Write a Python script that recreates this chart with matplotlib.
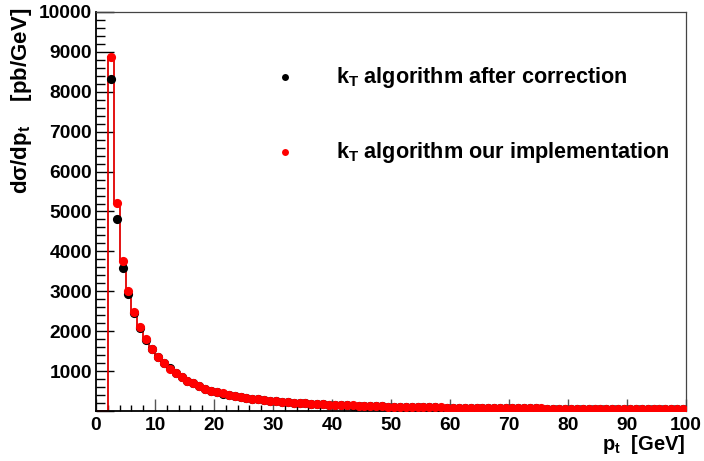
import numpy as np
import matplotlib
matplotlib.use("Agg")
import matplotlib.pyplot as plt

plt.rcParams["font.family"] = ["Liberation Sans", "DejaVu Sans"]
plt.rcParams["font.weight"] = "bold"
plt.rcParams["mathtext.fontset"] = "custom"
plt.rcParams["mathtext.rm"] = "Liberation Sans:bold"
plt.rcParams["mathtext.it"] = "Liberation Sans:bold"
plt.rcParams["mathtext.bf"] = "Liberation Sans:bold"

# 1 GeV bins from 0 to 100 GeV; first two bins are empty
bin_edges = np.arange(0, 101, 1)

# k_T algorithm our implementation (red), dsigma/dpt in pb/GeV, bins 0-1 ... 99-100
ours = [0, 0,
        8870, 5210, 3760, 3010, 2480, 2100, 1800, 1550, 1350, 1200,
        1060, 950, 840, 760, 690, 620, 560, 510, 470, 440,
        410, 380, 355, 330, 310, 292, 275, 260, 247, 235,
        224, 213, 203, 194, 185, 177, 169, 162, 155, 149,
        143, 138, 133, 128, 124, 120, 116, 112, 109, 106,
        103, 100, 97, 95, 92, 90, 88, 86, 84, 82,
        80, 78, 77, 75, 74, 72, 71, 70, 68, 67,
        66, 65, 64, 63, 62, 61, 60, 59, 58, 57,
        57, 56, 55, 54, 54, 53, 52, 52, 51, 50,
        50, 49, 48, 47, 47, 46, 45, 45]

# k_T algorithm after correction (black), same binning
corrected = [0, 0,
             8320, 4810, 3580, 2930, 2450, 2080, 1790, 1545, 1345, 1195,
             1070, 945, 850, 755, 690, 615, 560, 505, 470, 438,
             408, 379, 352, 330, 309, 290, 274, 259, 246, 234,
             223, 212, 202, 193, 184, 176, 168, 161, 154, 148,
             143, 137, 132, 127, 123, 119, 115, 112, 108, 105,
             102, 99, 97, 94, 92, 90, 87, 85, 83, 81,
             80, 78, 76, 75, 73, 72, 70, 69, 68, 67,
             66, 65, 64, 62, 61, 60, 60, 59, 58, 57,
             56, 56, 55, 54, 53, 53, 52, 51, 51, 50,
             49, 49, 48, 47, 47, 46, 45, 45]

legend_labels = [r"$k_T$ algorithm after correction", r"$k_T$ algorithm our implementation"]

centers = 0.5 * (bin_edges[:-1] + bin_edges[1:])
ours = np.array(ours, float)
corrected = np.array(corrected, float)
filled = ours > 0

fig = plt.figure(figsize=(7.04, 4.61), dpi=100)
ax = fig.add_axes([96 / 704, 1 - 411 / 461, 590 / 704, 399 / 461])

ax.stairs(ours, bin_edges, color="#e00000", lw=1.3, zorder=2, clip_on=False)
ax.plot(centers[filled], corrected[filled], "o", color="black", ms=6.6, mew=0, zorder=3)
ax.plot(centers[filled], ours[filled], "o", color="#ff0000", ms=6.6, mew=0, zorder=4)

ax.set_xlim(0, 100)
ax.set_ylim(0, 10000)
ax.set_xticks(np.arange(0, 101, 10))
ax.set_xticks(np.arange(0, 101, 2), minor=True)
ax.set_yticks(np.arange(0, 10001, 1000))
ax.set_yticks(np.arange(0, 10001, 200), minor=True)
ax.set_yticklabels([""] + [str(v) for v in range(1000, 10001, 1000)])
ax.tick_params(axis="both", which="both", direction="in", labelsize=13.8, colors="black")
ax.tick_params(axis="y", which="major", length=13, width=1, pad=3)
ax.tick_params(axis="y", which="minor", length=6.5, width=1)
ax.tick_params(axis="x", which="major", length=9, width=1, pad=4, color="#555555")
ax.tick_params(axis="x", which="minor", length=4.5, width=1)
for lab in ax.get_xticklabels() + ax.get_yticklabels():
    lab.set_fontweight("bold")

ax.spines["left"].set_linewidth(1.3)
ax.spines["bottom"].set_linewidth(1.3)
for s in ("top", "right"):
    ax.spines[s].set_linewidth(0.9)
    ax.spines[s].set_color("#444444")

fig.text(686 / 704, 1 - 450 / 461, r"p$_{\mathregular{t}}$  [GeV]", ha="right", va="baseline",
         fontsize=14.5, fontweight="bold")
fig.text(22 / 704, 1 - 8 / 461, r"dσ/dp$_{\mathregular{t}}$    [pb/GeV]", ha="center", va="top",
         rotation=90, fontsize=16, fontweight="bold")

# legend drawn as marker + text inside the frame
for ypx, col, lab in [(77, "black", legend_labels[0]), (152, "#ff0000", legend_labels[1])]:
    ax.plot([285 / 704], [1 - ypx / 461], "o", color=col, ms=5, mew=0,
            transform=fig.transFigure, clip_on=False)
    fig.text(336 / 704, 1 - ypx / 461, lab, ha="left", va="center", fontsize=15.6, fontweight="bold")

fig.savefig("out.png", dpi=100)
